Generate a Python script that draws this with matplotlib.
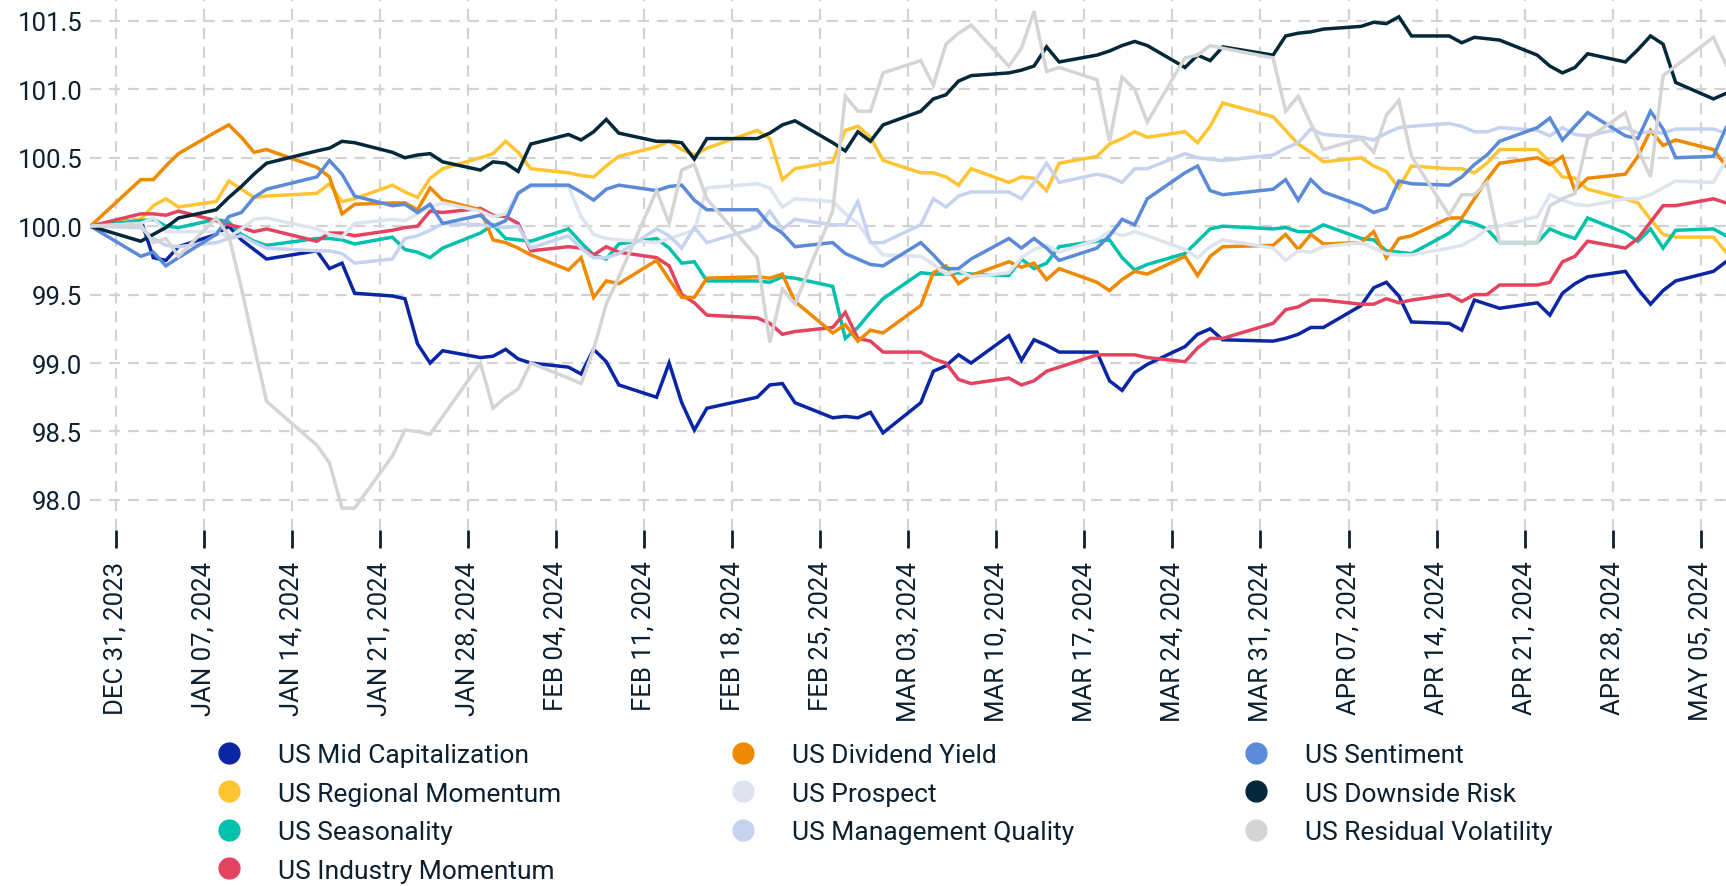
import matplotlib
matplotlib.use("Agg")
import matplotlib.pyplot as plt
import matplotlib.dates as mdates
from matplotlib.lines import Line2D
import pandas as pd

plt.rcParams['font.family'] = ['Roboto', 'DejaVu Sans']

dates = ["2023-12-29","2024-01-02","2024-01-03","2024-01-04","2024-01-05","2024-01-08","2024-01-09","2024-01-10","2024-01-11","2024-01-12",
         "2024-01-16","2024-01-17","2024-01-18","2024-01-19","2024-01-22","2024-01-23","2024-01-24","2024-01-25","2024-01-26","2024-01-29",
         "2024-01-30","2024-01-31","2024-02-01","2024-02-02","2024-02-05","2024-02-06","2024-02-07","2024-02-08","2024-02-09","2024-02-12",
         "2024-02-13","2024-02-14","2024-02-15","2024-02-16","2024-02-20","2024-02-21","2024-02-22","2024-02-23","2024-02-26","2024-02-27",
         "2024-02-28","2024-02-29","2024-03-01","2024-03-04","2024-03-05","2024-03-06","2024-03-07","2024-03-08","2024-03-11","2024-03-12",
         "2024-03-13","2024-03-14","2024-03-15","2024-03-18","2024-03-19","2024-03-20","2024-03-21","2024-03-22","2024-03-25","2024-03-26",
         "2024-03-27","2024-03-28","2024-04-01","2024-04-02","2024-04-03","2024-04-04","2024-04-05","2024-04-08","2024-04-09","2024-04-10",
         "2024-04-11","2024-04-12","2024-04-15","2024-04-16","2024-04-17","2024-04-18","2024-04-19","2024-04-22","2024-04-23","2024-04-24",
         "2024-04-25","2024-04-26","2024-04-29","2024-04-30","2024-05-01","2024-05-02","2024-05-03","2024-05-06","2024-05-07"]

mid_cap = [100.00,100.05,99.77,99.75,99.85,99.94,100.00,99.90,99.83,99.76,
           99.82,99.69,99.73,99.51,99.49,99.47,99.14,99.00,99.09,99.04,
           99.05,99.10,99.03,99.00,98.97,98.92,99.10,99.01,98.84,98.75,
           99.00,98.71,98.51,98.67,98.75,98.84,98.85,98.71,98.60,98.61,
           98.60,98.64,98.49,98.71,98.94,98.98,99.06,99.00,99.20,99.02,
           99.17,99.13,99.08,99.08,98.87,98.80,98.93,98.99,99.12,99.21,
           99.25,99.17,99.16,99.18,99.21,99.26,99.26,99.42,99.55,99.59,
           99.49,99.30,99.29,99.24,99.46,99.43,99.40,99.44,99.35,99.51,
           99.58,99.63,99.67,99.54,99.43,99.53,99.60,99.67,99.74]

regional_momentum = [100.00,100.05,100.15,100.20,100.14,100.18,100.33,100.27,100.21,100.22,
                     100.24,100.31,100.18,100.20,100.30,100.25,100.21,100.35,100.42,100.50,
                     100.53,100.62,100.54,100.42,100.39,100.37,100.36,100.44,100.51,100.58,
                     100.62,100.56,100.52,100.57,100.70,100.64,100.34,100.42,100.47,100.70,
                     100.73,100.65,100.48,100.39,100.39,100.36,100.30,100.42,100.32,100.36,
                     100.35,100.26,100.46,100.51,100.60,100.64,100.69,100.65,100.69,100.61,
                     100.73,100.90,100.80,100.70,100.60,100.54,100.47,100.50,100.44,100.40,
                     100.28,100.44,100.42,100.42,100.39,100.46,100.56,100.56,100.47,100.36,
                     100.35,100.27,100.20,100.17,100.05,99.94,99.92,99.92,99.81]

seasonality = [100.00,100.04,100.05,100.00,99.99,100.05,100.03,99.94,99.89,99.86,
               99.91,99.91,99.90,99.87,99.92,99.83,99.81,99.77,99.84,99.95,
               100.01,99.91,99.90,99.89,99.98,99.88,99.79,99.76,99.87,99.91,
               99.84,99.73,99.74,99.60,99.60,99.59,99.63,99.62,99.56,99.18,
               99.26,99.37,99.47,99.66,99.65,99.65,99.66,99.65,99.64,99.76,
               99.69,99.73,99.85,99.89,99.90,99.77,99.68,99.72,99.80,99.89,
               99.98,100.00,99.98,99.99,99.96,99.96,100.01,99.91,99.90,99.82,
               99.81,99.80,99.95,100.04,100.02,99.98,99.88,99.88,99.98,99.94,
               99.91,100.06,99.95,99.89,99.98,99.84,99.97,99.98,99.93]

industry_momentum = [100.00,100.09,100.09,100.08,100.11,100.04,100.01,99.99,99.96,99.98,
                     99.89,99.95,99.95,99.93,99.97,99.99,100.00,100.11,100.10,100.13,
                     100.08,100.07,100.02,99.82,99.85,99.84,99.79,99.85,99.81,99.77,
                     99.71,99.50,99.44,99.35,99.33,99.29,99.21,99.23,99.26,99.37,
                     99.18,99.16,99.08,99.08,99.03,99.00,98.88,98.85,98.89,98.84,
                     98.87,98.94,98.97,99.06,99.06,99.06,99.06,99.04,99.01,99.11,
                     99.18,99.18,99.29,99.39,99.41,99.46,99.46,99.43,99.43,99.47,
                     99.44,99.46,99.50,99.45,99.50,99.50,99.57,99.57,99.59,99.74,
                     99.78,99.89,99.84,99.91,100.03,100.15,100.15,100.20,100.17]

dividend_yield = [100.00,100.34,100.34,100.44,100.53,100.69,100.74,100.65,100.54,100.56,
                  100.43,100.36,100.09,100.16,100.17,100.17,100.12,100.28,100.19,100.12,
                  99.90,99.88,99.84,99.79,99.68,99.77,99.48,99.60,99.58,99.75,
                  99.61,99.48,99.48,99.62,99.63,99.62,99.65,99.45,99.22,99.28,
                  99.16,99.24,99.22,99.42,99.66,99.71,99.58,99.64,99.74,99.70,
                  99.73,99.61,99.69,99.59,99.53,99.61,99.67,99.65,99.78,99.64,
                  99.78,99.85,99.86,99.94,99.83,99.94,99.87,99.88,99.96,99.77,
                  99.91,99.93,100.06,100.06,100.20,100.34,100.46,100.50,100.45,100.51,
                  100.26,100.35,100.38,100.51,100.70,100.59,100.63,100.56,100.44]

prospect = [100.00,100.02,100.06,99.96,99.96,99.96,99.92,99.98,100.05,100.06,
            99.98,99.94,99.92,100.02,100.05,100.04,100.09,100.14,100.17,100.11,
            100.07,100.09,100.25,100.29,100.29,100.07,99.94,99.91,99.90,99.88,
            99.91,99.94,99.97,100.28,100.31,100.28,100.14,100.20,100.18,100.09,
            100.02,99.89,99.79,99.78,99.72,99.65,99.68,99.63,99.66,99.77,
            99.83,99.86,99.81,99.90,99.96,99.93,99.96,99.93,99.83,99.77,
            99.85,99.90,99.84,99.75,99.82,99.81,99.85,99.88,99.84,99.80,
            99.79,99.79,99.84,99.86,99.91,99.98,100.00,100.07,100.23,100.19,
            100.16,100.15,100.20,100.20,100.23,100.28,100.33,100.32,100.48]

management_quality = [100.00,99.99,99.91,99.86,99.85,99.88,99.91,99.93,99.88,99.84,
                      99.82,99.82,99.80,99.73,99.76,99.91,99.93,99.97,100.02,100.01,
                      100.00,99.99,100.00,99.84,99.93,99.84,99.77,99.77,99.80,99.98,
                      99.93,99.84,99.99,99.88,99.99,100.11,99.98,100.05,100.01,100.01,
                      100.18,99.88,99.88,100.01,100.20,100.14,100.22,100.25,100.25,100.20,
                      100.32,100.46,100.32,100.38,100.36,100.32,100.42,100.42,100.53,100.50,
                      100.49,100.48,100.52,100.57,100.61,100.71,100.67,100.65,100.63,100.68,
                      100.72,100.73,100.75,100.73,100.69,100.69,100.72,100.70,100.66,100.72,
                      100.67,100.66,100.72,100.68,100.69,100.68,100.71,100.71,100.68]

sentiment = [100.00,99.78,99.81,99.71,99.77,99.94,100.07,100.10,100.21,100.27,
             100.36,100.48,100.38,100.22,100.15,100.16,100.10,100.16,100.02,100.08,
             100.00,100.04,100.24,100.30,100.30,100.25,100.19,100.27,100.30,100.26,
             100.29,100.30,100.19,100.12,100.12,100.01,99.95,99.85,99.88,99.80,
             99.76,99.72,99.71,99.88,99.79,99.69,99.69,99.76,99.91,99.84,
             99.91,99.84,99.75,99.84,99.93,100.05,100.01,100.20,100.39,100.44,
             100.26,100.23,100.27,100.34,100.19,100.34,100.25,100.15,100.10,100.13,
             100.33,100.31,100.30,100.36,100.45,100.52,100.62,100.72,100.79,100.63,
             100.73,100.83,100.66,100.64,100.84,100.71,100.50,100.51,100.72]

downside_risk = [100.00,99.89,99.94,99.99,100.06,100.12,100.21,100.29,100.38,100.46,
                 100.55,100.57,100.62,100.61,100.54,100.50,100.52,100.53,100.47,100.41,
                 100.47,100.46,100.40,100.60,100.67,100.63,100.69,100.78,100.68,100.62,
                 100.62,100.61,100.49,100.64,100.64,100.68,100.74,100.77,100.61,100.55,
                 100.69,100.62,100.74,100.84,100.93,100.96,101.06,101.10,101.12,101.14,
                 101.17,101.31,101.20,101.25,101.28,101.32,101.35,101.32,101.16,101.25,
                 101.21,101.31,101.25,101.39,101.41,101.42,101.44,101.46,101.49,101.48,
                 101.53,101.39,101.39,101.34,101.38,101.37,101.36,101.25,101.17,101.12,
                 101.16,101.26,101.20,101.29,101.39,101.33,101.05,100.93,100.97]

residual_volatility = [100.00,100.01,99.88,99.91,99.78,100.06,99.93,99.55,99.13,98.72,
                       98.40,98.27,97.94,97.94,98.32,98.51,98.50,98.48,98.61,99.00,
                       98.67,98.75,98.81,99.00,98.89,98.85,99.10,99.43,99.63,100.26,
                       100.02,100.41,100.45,100.20,99.77,99.15,99.54,99.43,100.11,100.95,
                       100.84,100.84,101.12,101.21,101.03,101.33,101.41,101.47,101.17,101.30,
                       101.57,101.13,101.16,101.07,100.62,101.09,101.00,100.76,101.23,101.25,
                       101.32,101.30,101.23,100.84,100.95,100.75,100.56,100.64,100.54,100.81,
                       100.92,100.51,100.08,100.23,100.23,100.32,99.88,99.88,100.15,100.20,
                       100.24,100.64,100.83,100.56,100.36,101.10,101.17,101.38,101.18]

series_names = ["US Mid Capitalization", "US Regional Momentum", "US Seasonality", "US Industry Momentum",
                "US Dividend Yield", "US Prospect", "US Management Quality",
                "US Sentiment", "US Downside Risk", "US Residual Volatility"]
series_values = [mid_cap, regional_momentum, seasonality, industry_momentum,
                 dividend_yield, prospect, management_quality,
                 sentiment, downside_risk, residual_volatility]
series_colors = ["#0a26a4", "#ffc431", "#00c1ac", "#e4435f",
                 "#ef8900", "#dde4ee", "#c6d3ef",
                 "#5b8ad9", "#03283a", "#d5d5d5"]

tick_dates = ["2023-12-31","2024-01-07","2024-01-14","2024-01-21","2024-01-28","2024-02-04","2024-02-11",
              "2024-02-18","2024-02-25","2024-03-03","2024-03-10","2024-03-17","2024-03-24","2024-03-31",
              "2024-04-07","2024-04-14","2024-04-21","2024-04-28","2024-05-05"]
tick_labels = ["DEC 31, 2023","JAN 07, 2024","JAN 14, 2024","JAN 21, 2024","JAN 28, 2024","FEB 04, 2024",
               "FEB 11, 2024","FEB 18, 2024","FEB 25, 2024","MAR 03, 2024","MAR 10, 2024","MAR 17, 2024",
               "MAR 24, 2024","MAR 31, 2024","APR 07, 2024","APR 14, 2024","APR 21, 2024","APR 28, 2024",
               "MAY 05, 2024"]
y_ticks = [98.0, 98.5, 99.0, 99.5, 100.0, 100.5, 101.0, 101.5]

W, H = 1726, 887
fig = plt.figure(figsize=(W / 100, H / 100), dpi=100)
ax_left, ax_right, ax_top, ax_bottom = 90.4, 1726, 0, 531
ax = fig.add_axes([ax_left / W, 1 - ax_bottom / H, (ax_right - ax_left) / W, (ax_bottom - ax_top) / H])

x = pd.to_datetime(dates)
for name, vals, col in zip(series_names, series_values, series_colors):
    ax.plot(x, vals, color=col, lw=2.5, label=name, solid_joinstyle='miter')

ax.set_xlim(pd.Timestamp("2023-12-29"), pd.Timestamp("2024-05-07"))
ax.set_ylim(97.78, 101.66)

text_col = "#0d2030"
ax.set_xticks(pd.to_datetime(tick_dates))
ax.set_xticklabels(tick_labels, rotation=90, fontsize=18.5, color=text_col)
ax.set_yticks(y_ticks)
ax.set_yticklabels([f"{v:.1f}" for v in y_ticks], fontsize=18.5, color=text_col)
ax.tick_params(axis='x', length=13, width=2, color=text_col, pad=9, direction='out')
ax.tick_params(axis='y', length=0, pad=6)

ax.grid(True, color="#d3d3d3", lw=1.6, linestyle=(0, (5, 3.5)))
ax.set_axisbelow(True)
for s in ax.spines.values():
    s.set_visible(False)

handles = [Line2D([], [], marker='o', linestyle='none', color=c, markersize=15) for c in series_colors]
leg = fig.legend(handles, series_names, ncol=3, loc='upper left',
                 bbox_to_anchor=(216 / W, 1 - 744 / H), frameon=False, fontsize=19,
                 handlelength=1.0, handletextpad=1.35, columnspacing=6.4, labelspacing=0.55,
                 borderpad=0, borderaxespad=0)
for t in leg.get_texts():
    t.set_color(text_col)

fig.savefig("out.png", dpi=100)
